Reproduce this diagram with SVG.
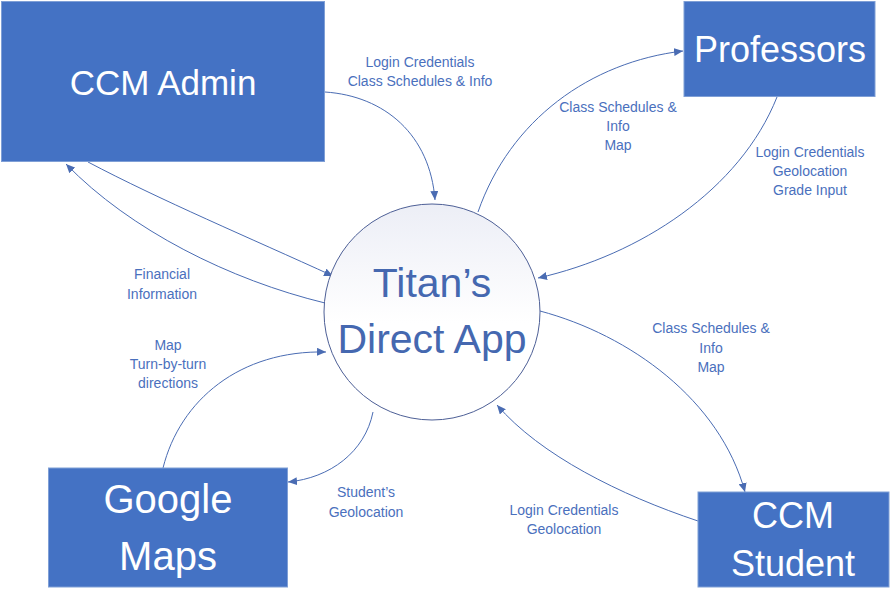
<svg xmlns="http://www.w3.org/2000/svg" width="891" height="607" viewBox="0 0 891 607">
<style>
.box{fill:#4472C4;stroke:#7f9fd6;stroke-width:1}
.bt{fill:#ffffff;font-family:"Liberation Sans",Arial,sans-serif;text-anchor:middle}
.lbl{fill:#4a70bd;font-family:"Liberation Sans",Arial,sans-serif;font-size:14px;text-anchor:middle}
.con{fill:none;stroke:#4a6cb3;stroke-width:1;marker-end:url(#ah)}
</style>
<defs>
<marker id="ah" markerUnits="userSpaceOnUse" markerWidth="10" markerHeight="8" refX="9" refY="4" orient="auto">
<path d="M0,0 L9,4 L0,8 Z" fill="#4a6cb3"/>
</marker>
<linearGradient id="cg" x1="0" y1="0" x2="0" y2="1">
<stop offset="0" stop-color="#eceef6"/>
<stop offset="0.55" stop-color="#ffffff"/>
<stop offset="1" stop-color="#ffffff"/>
</linearGradient>
</defs>
<rect width="891" height="607" fill="#ffffff"/>
<g id="connectors">
<path class="con" d="M325,92 C385,96 430,135 435,200"/>
<path class="con" d="M478,212 C510,120 590,62 683,51"/>
<path class="con" d="M777,97 C740,190 640,255 538,278"/>
<path class="con" d="M540,311 C630,335 720,400 745,492"/>
<path class="con" d="M698,521 C620,495 540,455 497,405"/>
<path class="con" d="M88,162 C160,200 250,238 333,276"/>
<path class="con" d="M325,303 C230,280 130,230 66,164"/>
<path class="con" d="M163,468 C180,400 240,350 326,352"/>
<path class="con" d="M373,412 C365,452 330,478 288,482"/>
</g>
<g id="ccm-admin">
<rect class="box" x="1.5" y="1.5" width="323" height="160"/>
<text class="bt" x="163" y="95" font-size="35">CCM Admin</text>
</g>
<g id="professors">
<rect class="box" x="684" y="1.5" width="191" height="95"/>
<text class="bt" x="780" y="62" font-size="36">Professors</text>
</g>
<g id="google-maps">
<rect class="box" x="48.5" y="468" width="239" height="119"/>
<text class="bt" x="168" y="513" font-size="40">Google</text>
<text class="bt" x="168" y="570" font-size="40">Maps</text>
</g>
<g id="ccm-student">
<rect class="box" x="698" y="492" width="191" height="95"/>
<text class="bt" x="793" y="528" font-size="36">CCM</text>
<text class="bt" x="793" y="576" font-size="36">Student</text>
</g>
<g id="titans-direct-app">
<circle cx="432" cy="312" r="108" fill="url(#cg)" stroke="#4d5f96" stroke-width="1"/>
<text x="432" y="297" font-size="41" fill="#4568b0" font-family="Liberation Sans,Arial,sans-serif" text-anchor="middle">Titan’s</text>
<text x="432" y="353" font-size="41" fill="#4568b0" font-family="Liberation Sans,Arial,sans-serif" text-anchor="middle">Direct App</text>
</g>
<g id="labels">
<text class="lbl" x="420" y="67">Login Credentials</text>
<text class="lbl" x="420" y="86">Class Schedules &amp; Info</text>
<text class="lbl" x="618" y="112">Class Schedules &amp;</text>
<text class="lbl" x="618" y="131">Info</text>
<text class="lbl" x="618" y="150">Map</text>
<text class="lbl" x="810" y="157">Login Credentials</text>
<text class="lbl" x="810" y="176">Geolocation</text>
<text class="lbl" x="810" y="195">Grade Input</text>
<text class="lbl" x="162" y="279">Financial</text>
<text class="lbl" x="162" y="299">Information</text>
<text class="lbl" x="168" y="350">Map</text>
<text class="lbl" x="168" y="369">Turn-by-turn</text>
<text class="lbl" x="168" y="388">directions</text>
<text class="lbl" x="366" y="497">Student’s</text>
<text class="lbl" x="366" y="517">Geolocation</text>
<text class="lbl" x="711" y="333">Class Schedules &amp;</text>
<text class="lbl" x="711" y="353">Info</text>
<text class="lbl" x="711" y="372">Map</text>
<text class="lbl" x="564" y="515">Login Credentials</text>
<text class="lbl" x="564" y="534">Geolocation</text>
</g>
</svg>
